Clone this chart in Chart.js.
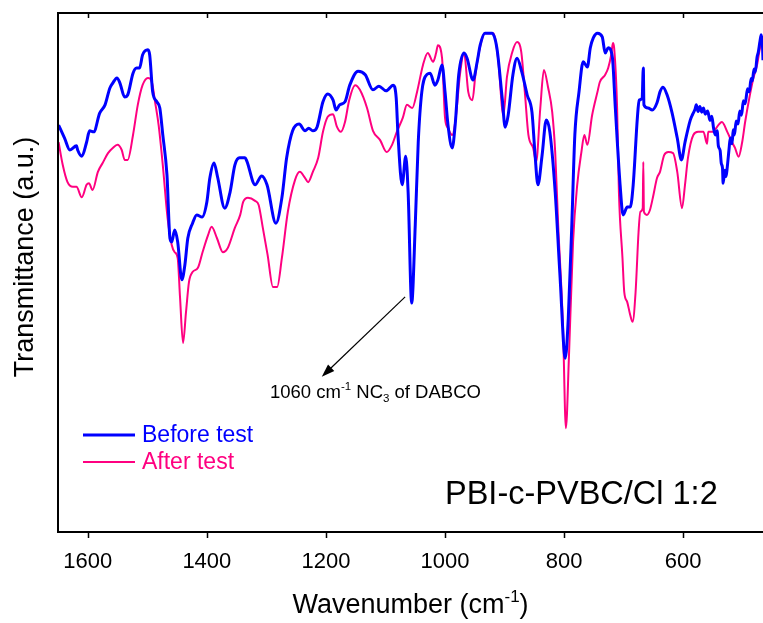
<!DOCTYPE html>
<html>
<head>
<meta charset="utf-8">
<script src="https://cdn.jsdelivr.net/npm/chart.js@4.4.1/dist/chart.umd.min.js"></script>
<style>
    html, body { margin: 0; padding: 0; background: #fff; }
    #chart { display: block; }
</style>
</head>
<body>
<canvas id="chart" width="763" height="623"></canvas>
<script>
// wavenumber (cm-1), transmittance (a.u.)
const beforeTest = [
    [1649,78.4],[1639,75.9],[1630,73.6],[1619,74.4],[1617,73.6],[1610,72.4],[1602,75.1],[1597,77.3],
    [1590,77.1],[1580,80.7],[1571,82.3],[1563,85.5],[1558,86.5],[1551,87.5],[1546,86.5],[1538,83.8],
    [1533,84.2],[1524,88.4],[1518,89.4],[1513,89.4],[1508,91.9],[1499,92.9],[1496,91.9],[1491,84.8],
    [1484,82.9],[1479,81.7],[1474,76.5],[1467,68.8],[1462,56.6],[1459,55.9],[1454,58.2],[1449,55.9],
    [1442,48.6],[1437,51.4],[1432,56.6],[1424,59.5],[1417,61.1],[1408,60.7],[1400,63.6],[1395,68.2],
    [1388,71.1],[1382,68.4],[1370,62.4],[1361,65.5],[1353,70.7],[1345,72.1],[1336,72.1],[1333,71.5],
    [1319,66.9],[1308,68.6],[1299,66.9],[1284,59.5],[1274,64.4],[1266,72.1],[1256,77.3],[1245,78.6],
    [1235,77.3],[1229,77.8],[1222,77.3],[1215,78.0],[1205,82.9],[1197,84.4],[1188,83.2],[1183,81.3],
    [1177,82.3],[1168,82.9],[1160,86.1],[1146,88.8],[1134,88.1],[1121,85.2],[1111,85.9],[1099,85.0],
    [1087,86.1],[1082,83.6],[1079,76.5],[1072,66.9],[1066,72.4],[1062,65.5],[1056,44.1],[1050,59.2],
    [1045,75.1],[1039,84.8],[1030,88.2],[1025,88.4],[1017,86.1],[1012,87.1],[1005,90.0],[1000,84.8],
    [995,78.4],[988,74.0],[983,78.4],[977,88.1],[968,92.3],[963,91.3],[953,87.1],[946,90.6],
    [941,93.8],[933,96.1],[921,96.1],[913,93.3],[904,83.6],[899,78.0],[894,80.3],[886,88.1],
    [879,91.3],[871,88.6],[862,84.2],[854,80.9],[849,73.0],[844,66.9],[837,72.6],[830,79.4],
    [824,77.1],[815,65.5],[807,49.5],[798,33.5],[793,41.2],[787,59.5],[782,76.5],[775,84.8],
    [768,90.6],[761,89.6],[756,93.3],[751,95.2],[744,96.1],[736,95.4],[731,92.3],[726,93.3],
    [719,91.5],[714,81.7],[706,66.9],[701,61.1],[694,62.6],[689,62.6],[684,66.9],[677,79.8],
    [674,83.2],[669,83.6],[667,89.4],[666,82.3],[659,81.7],[652,81.3],[644,82.7],[639,84.8],
    [634,85.7],[627,84.2],[619,80.9],[610,75.9],[603,71.7],[597,75.1],[588,79.4],[584,80.5],
    [580,81.5],[578,82.3],[575,81.0],[572,82.0],[569,80.9],[566,81.7],[563,80.5],[559,81.1],
    [555,79.3],[552,80.1],[549,77.8],[546,76.5],[543,77.3],[541,74.4],[538,73.5],[536,71.0],
    [534,70.1],[533,67.2],[530,69.7],[528,68.5],[526,70.3],[523,73.8],[521,75.9],[518,74.8],
    [516,77.5],[514,76.5],[511,79.2],[508,78.6],[505,81.1],[502,80.3],[499,83.1],[496,82.5],
    [492,85.4],[489,84.8],[486,87.4],[484,86.9],[481,89.2],[479,88.6],[476,91.5],[474,92.4],
    [471,94.6],[469,95.8],[467,94.0],[466,90.9]
];

const afterTest = [
    [1649,75.1],[1642,70.7],[1634,67.4],[1625,66.5],[1619,66.5],[1610,64.5],[1602,66.9],[1598,67.2],
    [1592,65.9],[1583,69.4],[1575,71.1],[1566,73.0],[1558,74.0],[1550,74.6],[1543,73.6],[1538,71.7],
    [1533,71.7],[1524,76.5],[1516,82.3],[1508,86.1],[1499,87.5],[1492,86.5],[1487,82.9],[1481,78.4],
    [1474,70.7],[1466,60.5],[1459,55.3],[1454,53.9],[1449,52.8],[1445,45.1],[1440,36.4],[1435,42.4],
    [1430,48.2],[1424,50.1],[1415,50.9],[1407,54.0],[1398,57.2],[1392,58.8],[1383,56.6],[1373,53.9],
    [1365,54.7],[1353,58.6],[1344,61.1],[1339,63.6],[1331,64.4],[1319,63.8],[1313,63.0],[1306,58.6],
    [1298,53.4],[1289,47.2],[1282,47.2],[1274,52.8],[1264,61.7],[1252,67.8],[1244,69.4],[1235,68.2],
    [1230,67.4],[1222,69.4],[1213,72.1],[1205,77.1],[1197,80.0],[1188,80.5],[1182,78.2],[1175,77.1],
    [1168,79.0],[1161,83.2],[1151,86.1],[1143,85.2],[1131,81.7],[1121,77.3],[1109,75.5],[1098,73.2],
    [1089,74.6],[1081,77.1],[1071,79.8],[1064,82.3],[1055,81.7],[1047,84.8],[1037,90.0],[1029,92.3],
    [1020,90.6],[1015,92.3],[1012,93.8],[1005,91.3],[1000,79.8],[995,77.8],[988,76.5],[982,79.8],
    [975,88.1],[968,92.3],[961,84.8],[954,83.2],[949,88.1],[943,92.5],[933,96.1],[919,96.1],
    [911,91.3],[902,80.3],[896,87.7],[887,92.5],[879,94.4],[872,92.5],[866,84.8],[860,76.5],
    [852,74.0],[847,71.3],[840,81.7],[834,89.0],[827,85.7],[820,80.9],[815,73.2],[810,59.2],
    [802,39.9],[797,20.0],[792,33.5],[785,55.9],[778,66.9],[771,73.2],[766,76.5],[761,74.6],
    [753,80.3],[744,84.8],[740,86.7],[731,88.1],[726,89.4],[721,91.9],[718,94.2],[716,93.3],
    [711,81.7],[708,65.5],[702,52.8],[699,46.2],[694,44.3],[689,41.8],[685,40.5],[680,46.2],
    [675,57.8],[672,61.7],[668,62.4],[667,71.3],[666,61.7],[661,61.1],[656,62.0],[651,64.4],
    [644,68.2],[639,69.4],[632,72.6],[625,73.2],[617,73.0],[610,69.4],[602,62.4],[597,66.9],
    [592,72.1],[583,76.5],[575,77.1],[566,77.1],[560,74.8],[558,77.1],[550,77.1],[541,78.4],
    [535,79.0],[526,77.1],[518,75.1],[513,74.0],[507,72.3],[501,75.1],[496,79.0],[489,83.6],
    [482,87.5],[476,90.0],[471,93.3],[466,95.2]
];

const tickValues = [1600, 1400, 1200, 1000, 800, 600];
const seriesNames = ['Before test', 'After test'];
const seriesColors = ['#0000FF', '#FF0080'];

// arrow for the 1060 cm-1 band: [wavenumber, value] start and end
const arrowFrom = [1067, 45.3];
const arrowTo = [1207, 29.9];
const noteAt = [1294, 25.8];

const FONT = '"Liberation Sans", Arial, sans-serif';

function richWidth(ctx, parts) {
    let w = 0;
    parts.forEach(p => {
        ctx.font = p.size + 'px ' + FONT;
        w += ctx.measureText(p.t).width;
    });
    return w;
}

function drawRich(ctx, parts, x, y) {
    parts.forEach(p => {
        ctx.font = p.size + 'px ' + FONT;
        ctx.fillText(p.t, x, y + (p.dy || 0));
        x += ctx.measureText(p.t).width;
    });
}

const decorPlugin = {
    id: 'decor',
    beforeDraw(chart) {
        const ctx = chart.ctx;
        ctx.save();
        ctx.fillStyle = '#fff';
        ctx.fillRect(0, 0, chart.width, chart.height);
        ctx.restore();
    },
    afterDraw(chart) {
        const { ctx, chartArea: a, scales: { x, y } } = chart;
        ctx.save();

        // frame (right side is cut by the picture edge)
        ctx.strokeStyle = '#000';
        ctx.lineWidth = 2;
        ctx.beginPath();
        ctx.moveTo(a.right + 2, a.top);
        ctx.lineTo(a.left, a.top);
        ctx.lineTo(a.left, a.bottom);
        ctx.lineTo(a.right + 2, a.bottom);
        ctx.stroke();

        // ticks: inward on top, outward on bottom
        ctx.lineWidth = 1.5;
        ctx.beginPath();
        tickValues.forEach(v => {
            const px = Math.round(x.getPixelForValue(v)) + 0.5;
            ctx.moveTo(px, a.top);
            ctx.lineTo(px, a.top + 5);
            ctx.moveTo(px, a.bottom);
            ctx.lineTo(px, a.bottom + 6);
        });
        ctx.stroke();

        ctx.fillStyle = '#000';
        ctx.textBaseline = 'alphabetic';

        // x title
        const xt = [
            { t: 'Wavenumber (cm', size: 27 },
            { t: '-1', size: 17, dy: -11 },
            { t: ')', size: 27 }
        ];
        const xw = richWidth(ctx, xt);
        drawRich(ctx, xt, (a.left + a.right) / 2 - xw / 2, 613);

        // y title
        ctx.save();
        ctx.translate(33, 257);
        ctx.rotate(-Math.PI / 2);
        ctx.font = '27px ' + FONT;
        ctx.textAlign = 'center';
        ctx.fillText('Transmittance (a.u.)', 0, 0);
        ctx.restore();

        // arrow
        const x0 = x.getPixelForValue(arrowFrom[0]), y0 = y.getPixelForValue(arrowFrom[1]);
        const x1 = x.getPixelForValue(arrowTo[0]), y1 = y.getPixelForValue(arrowTo[1]);
        const ang = Math.atan2(y1 - y0, x1 - x0);
        ctx.strokeStyle = '#000';
        ctx.lineWidth = 1.2;
        ctx.beginPath();
        ctx.moveTo(x0, y0);
        ctx.lineTo(x1 - 8 * Math.cos(ang), y1 - 8 * Math.sin(ang));
        ctx.stroke();
        ctx.beginPath();
        ctx.moveTo(x1, y1);
        ctx.lineTo(x1 - 13 * Math.cos(ang) + 4.5 * Math.sin(ang), y1 - 13 * Math.sin(ang) - 4.5 * Math.cos(ang));
        ctx.lineTo(x1 - 13 * Math.cos(ang) - 4.5 * Math.sin(ang), y1 - 13 * Math.sin(ang) + 4.5 * Math.cos(ang));
        ctx.closePath();
        ctx.fill();

        // band note
        drawRich(ctx, [
            { t: '1060 cm', size: 18.5 },
            { t: '-1', size: 11.5, dy: -8 },
            { t: ' NC', size: 18.5 },
            { t: '3', size: 11.5, dy: 4 },
            { t: ' of DABCO', size: 18.5 }
        ], x.getPixelForValue(noteAt[0]), y.getPixelForValue(noteAt[1]));

        // legend
        const lx = a.left + 25;
        seriesNames.forEach((name, i) => {
            const ly = a.top + 422 + i * 27;
            ctx.strokeStyle = seriesColors[i];
            ctx.lineWidth = i === 0 ? 3 : 2;
            ctx.beginPath();
            ctx.moveTo(lx, ly);
            ctx.lineTo(lx + 52, ly);
            ctx.stroke();
            ctx.fillStyle = seriesColors[i];
            ctx.font = '23px ' + FONT;
            ctx.textBaseline = 'middle';
            ctx.fillText(name, lx + 59, ly + 1);
        });

        // sample name
        ctx.fillStyle = '#000';
        ctx.textBaseline = 'alphabetic';
        ctx.font = '32.5px ' + FONT;
        ctx.fillText('PBI-c-PVBC/Cl 1:2', a.left + 387, a.top + 491);

        ctx.restore();
    }
};

const ctx = document.getElementById('chart').getContext('2d');
new Chart(ctx, {
    type: 'line',
    data: {
        datasets: [
            {
                label: seriesNames[0],
                data: beforeTest.map(p => ({ x: p[0], y: p[1] })),
                borderColor: seriesColors[0],
                borderWidth: 3,
                pointRadius: 0,
                cubicInterpolationMode: 'monotone',
                fill: false
            },
            {
                label: seriesNames[1],
                data: afterTest.map(p => ({ x: p[0], y: p[1] })),
                borderColor: seriesColors[1],
                borderWidth: 2,
                pointRadius: 0,
                cubicInterpolationMode: 'monotone',
                fill: false
            }
        ]
    },
    options: {
        responsive: false,
        animation: false,
        devicePixelRatio: 1,
        layout: { padding: { top: 13, left: 58, right: 0, bottom: 0 } },
        plugins: {
            legend: { display: false },
            tooltip: { enabled: false }
        },
        scales: {
            x: {
                type: 'linear',
                reverse: true,
                min: 466,
                max: 1650,
                afterBuildTicks: s => { s.ticks = tickValues.map(v => ({ value: v })); },
                afterFit: s => { s.height = 91; },
                grid: { display: false },
                border: { display: false },
                ticks: {
                    color: '#000',
                    padding: 9,
                    maxRotation: 0,
                    autoSkip: false,
                    font: { family: FONT, size: 22 },
                    callback: v => String(v)
                }
            },
            y: {
                display: false,
                min: 0,
                max: 100
            }
        }
    },
    plugins: [decorPlugin]
});
</script>
</body>
</html>
